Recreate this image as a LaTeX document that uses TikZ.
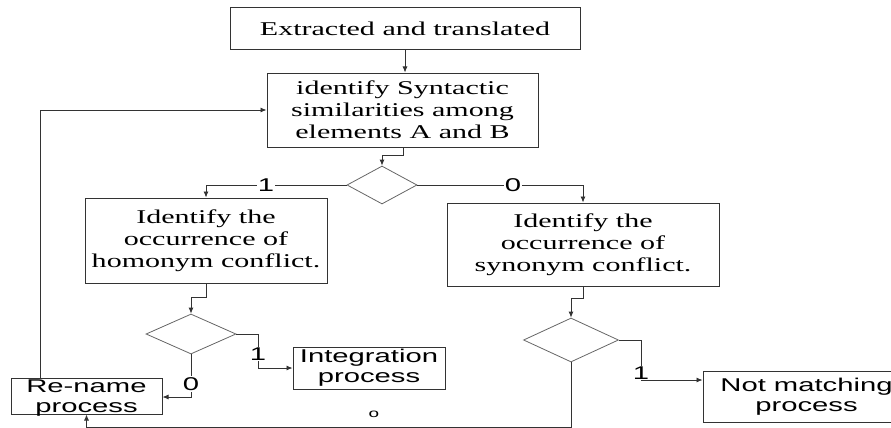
\documentclass[tikz,border=0pt]{standalone}
\usepackage{fontspec}
\usetikzlibrary{shapes.geometric,arrows.meta}
\newfontfamily\myserif[FakeStretch=1.54]{Liberation Serif}
\newfontfamily\mysans[FakeStretch=1.58]{Liberation Sans}
\begin{document}
\begin{tikzpicture}[x=1pt,y=-1pt,
  box/.style={draw=black!80, line width=1pt, rectangle, inner sep=0pt, align=center,
    font=\myserif\fontsize{19.5}{22}\selectfont},
  sbox/.style={draw=black!80, line width=1pt, rectangle, inner sep=0pt, align=center,
    font=\mysans\fontsize{18.5}{20}\selectfont},
  stext/.style={inner sep=0pt, align=center, font=\mysans\fontsize{18.5}{20}\selectfont},
  dia/.style={draw=black!60, diamond, inner sep=0pt, line width=0.8pt},
  arr/.style={draw=black!80, line width=0.8pt, -{Latex[length=6pt,width=5pt]}},
  ln/.style={draw=black!80, line width=0.8pt},
  lab/.style={fill=white, inner sep=1pt, font=\mysans\fontsize{18.5}{20}\selectfont},
  slab/.style={inner sep=0pt, font=\mysans\fontsize{12}{14}\selectfont}
]
\useasboundingbox (0,0) rectangle (891,428);
\clip (0,0) rectangle (891,428);

% boxes
\node[box, minimum width=350pt, minimum height=42pt] (b1) at (405,29) {Extracted and translated};
\node[box, minimum width=271pt, minimum height=74pt] (b2) at (402.5,110) {identify Syntactic\\similarities among\\elements A and B};
\node[box, minimum width=242pt, minimum height=85pt] (b3) at (206,240.5) {Identify the\\occurrence of\\homonym conflict.};
\node[box, minimum width=272pt, minimum height=83pt] (b4) at (583,244.5) {Identify the\\occurrence of\\synonym conflict.};
\node[sbox, minimum width=152pt, minimum height=42pt] (integ) at (369,368) {Integration\\process};
\node[draw=black!80, line width=1pt, rectangle, inner sep=0pt, minimum width=151pt, minimum height=36pt] (rn) at (86.5,396) {};
\node[stext] (rnt) at (86.5,398) {Re-name\\process};
\node[sbox, minimum width=207pt, minimum height=51pt] (nm) at (806.5,396.5) {Not matching\\process};

% diamonds
\node[dia, minimum width=70pt, minimum height=38pt] (d1) at (382,185) {};
\node[dia, minimum width=90pt, minimum height=40pt] (d2) at (191,334) {};
\node[dia, minimum width=95pt, minimum height=44pt] (d3) at (571,340) {};

% junction coordinates
\coordinate (j1) at (403,155);
\coordinate (j2) at (206,297);
\coordinate (j3) at (583,298);
\coordinate (k1) at (258,334);
\coordinate (k3) at (641,380);
\coordinate (bl) at (571,427);
\coordinate (ls) at (40,378);
\coordinate (lt) at (40,110);

% connectors
\draw[arr] (b1.south) -- (b1.south |- b2.north);
\draw[arr] (b2.south -| j1) -- (j1) -| (d1.north);
\draw[arr] (d1.west) -| (b3.north);
\draw[arr] (d1.east) -| (b4.north);
\draw[arr] (b3.south -| j2) -- (j2) -| (d2.north);
\draw[arr] (b4.south -| j3) -- (j3) -| (d3.north);
\draw[arr] (d2.east) -- (k1) |- (integ.west);
\draw[arr] (d2.south) |- (rn.east |- 0,397);
\draw[arr] (d3.east) -| (k3) -- (k3 -| nm.west);
\draw[arr] (d3.south) -- (bl) -| (rn.south);
\draw[arr] (ls) -- (lt) -- (lt -| b2.west);

% labels
\node[lab] (l1) at (266,185) {1};
\node[lab] (l2) at (513,185) {0};
\node[lab] (l3) at (258,354) {1};
\node[lab] (l4) at (191,384) {0};
\node[lab] (l5) at (641,373) {1};
\node[slab] (l6) at (374,414) {o};
\end{tikzpicture}
\end{document}
